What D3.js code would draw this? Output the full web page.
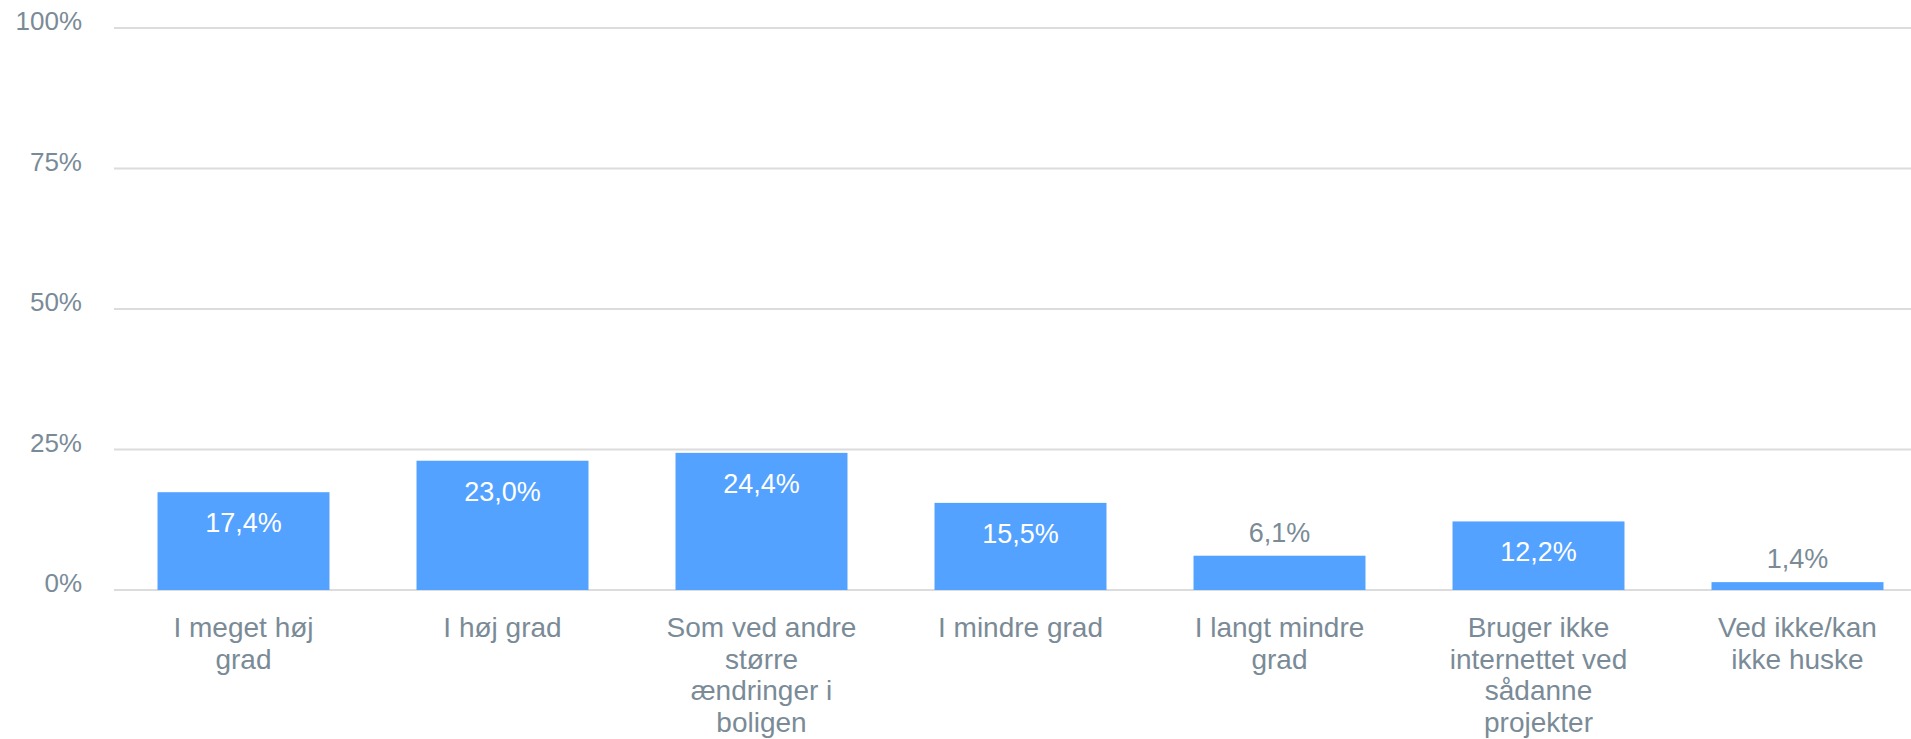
<!DOCTYPE html>
<html>
<head>
<meta charset="utf-8">
<script src="https://cdn.jsdelivr.net/npm/d3@7"></script>
<style>
  html, body { margin: 0; padding: 0; background: #fff; }
  svg { display: block; font-family: "Liberation Sans", Arial, sans-serif; }
</style>
</head>
<body>
<svg id="chart" width="1911" height="739"></svg>
<script>
// Answer categories (line breaks as shown under each bar)
const categories = [
  "I meget høj\ngrad",
  "I høj grad",
  "Som ved andre\nstørre\nændringer i\nboligen",
  "I mindre grad",
  "I langt mindre\ngrad",
  "Bruger ikke\ninternettet ved\nsådanne\nprojekter",
  "Ved ikke/kan\nikke huske"
];
// Share of respondents, percent
const values = [17.4, 23.0, 24.4, 15.5, 6.1, 12.2, 1.4];
// Y axis ticks
const yTicks = [0, 25, 50, 75, 100];

const svg = d3.select("#chart");
const W = 1911;
const plotLeft = 114, plotTop = 28, plotBottom = 590;
const step = 259;

const x = d3.scaleBand()
  .domain(categories)
  .range([plotLeft, plotLeft + step * categories.length])
  .paddingInner(0.336)
  .paddingOuter(0.168);

const y = d3.scaleLinear().domain([0, 100]).range([plotBottom, plotTop]);

const textColor = "#7a8b97";
const barColor = "#54a2ff";
const fmt = v => v.toFixed(1).replace(".", ",") + "%";

// Gridlines
svg.append("g")
  .selectAll("line")
  .data(yTicks)
  .join("line")
  .attr("x1", plotLeft)
  .attr("x2", W)
  .attr("y1", d => y(d))
  .attr("y2", d => y(d))
  .attr("stroke", "#dcdcdc")
  .attr("stroke-width", 2);

// Y tick labels
svg.append("g")
  .selectAll("text")
  .data(yTicks)
  .join("text")
  .attr("x", 82)
  .attr("y", d => y(d) + 2)
  .attr("text-anchor", "end")
  .attr("font-size", 26)
  .attr("fill", textColor)
  .text(d => d + "%");

const data = categories.map((c, i) => ({ c, v: values[i] }));

// Bars
svg.append("g")
  .selectAll("rect")
  .data(data)
  .join("rect")
  .attr("x", d => x(d.c))
  .attr("width", x.bandwidth())
  .attr("y", d => y(d.v))
  .attr("height", d => y(0) - y(d.v))
  .attr("fill", barColor);

// Value labels: inside tall bars, above short ones
svg.append("g")
  .selectAll("text")
  .data(data)
  .join("text")
  .attr("x", d => x(d.c) + x.bandwidth() / 2)
  .attr("y", d => d.v > 10 ? y(d.v) + 40 : y(d.v) - 14)
  .attr("text-anchor", "middle")
  .attr("font-size", 27)
  .attr("fill", d => d.v > 10 ? "#ffffff" : textColor)
  .text(d => fmt(d.v));

// Category labels
const cat = svg.append("g")
  .selectAll("text")
  .data(categories)
  .join("text")
  .attr("x", d => x(d) + x.bandwidth() / 2)
  .attr("y", 637)
  .attr("text-anchor", "middle")
  .attr("font-size", 28)
  .attr("fill", textColor);

cat.selectAll("tspan")
  .data(d => d.split("\n").map(line => ({ line, x: x(d) + x.bandwidth() / 2 })))
  .join("tspan")
  .attr("x", t => t.x)
  .attr("dy", (t, i) => i === 0 ? 0 : 31.5)
  .text(t => t.line);
</script>
</body>
</html>
